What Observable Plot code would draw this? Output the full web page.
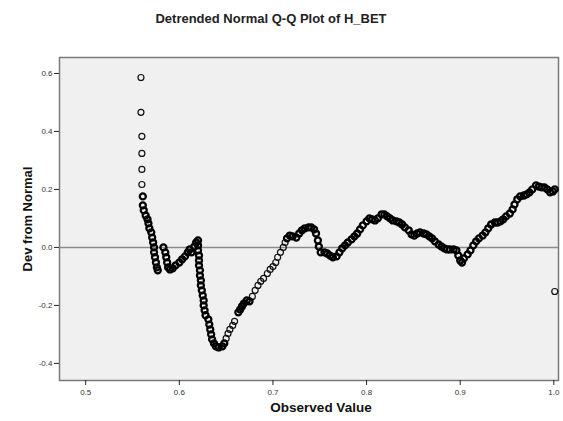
<!DOCTYPE html>
<html>
<head>
<meta charset="utf-8">
<script src="https://cdn.jsdelivr.net/npm/d3@7"></script>
<script src="https://cdn.jsdelivr.net/npm/@observablehq/plot@0.6"></script>
<style>
  html, body { margin: 0; padding: 0; background: #fff; }
  #wrap { position: relative; width: 563px; height: 421px; }
  #title { position: absolute; top: 11px; left: 271px; transform: translateX(-50%); white-space: nowrap;
           font-family: "Liberation Sans", Arial, sans-serif; font-size: 13px; font-weight: bold; color: #222; }
  svg [aria-label="x-axis label"] text { font-size: 13.5px; font-weight: bold; fill: #111; }
  svg [aria-label="y-axis label"] text { font-size: 13px; font-weight: bold; fill: #111; }
  svg [aria-label="y-axis tick label"] text, svg [aria-label="x-axis tick label"] text { fill: #333; }
</style>
</head>
<body>
<div id="wrap"><div id="title">Detrended Normal Q-Q Plot of H_BET</div></div>
<script>
const title = "Detrended Normal Q-Q Plot of H_BET";
const xLabel = "Observed Value";
const yLabel = "Dev from Normal";
const xTicks = [0.5, 0.6, 0.7, 0.8, 0.9, 1.0];
const yTicks = [-0.4, -0.2, 0.0, 0.2, 0.4, 0.6];

const obsValue = [
  0.559,0.559,0.560,0.560,0.560,0.560,0.561,0.561,0.562,0.564,0.566,0.567,0.568,0.570,0.571,0.572,0.573,0.573,0.574,0.575,0.576,0.577,
  0.583,0.585,0.586,0.587,0.588,0.590,0.593,0.596,0.600,0.603,0.606,0.609,0.611,0.613,0.616,0.618,0.620,
  0.620,0.620,0.621,0.621,0.621,0.622,0.622,0.623,0.623,0.624,0.625,0.626,0.626,0.627,0.628,0.631,0.632,0.633,0.634,0.635,0.637,0.639,0.642,0.646,0.648,
  0.650,0.652,0.654,0.657,0.659,
  0.663,0.665,0.667,0.669,0.672,0.675,0.678,0.681,0.684,0.687,0.690,0.694,0.697,0.700,0.703,0.705,0.708,0.711,0.713,0.715,0.718,0.721,0.725,0.728,0.731,0.734,0.738,0.741,0.744,0.746,0.748,0.749,
  0.751,0.755,0.758,0.761,0.764,0.768,0.771,0.774,0.777,0.780,0.784,0.787,0.790,0.793,0.796,0.800,0.803,0.806,0.809,0.812,0.816,0.819,0.822,0.825,0.828,0.832,0.835,0.838,0.841,0.845,0.848,
  0.851,0.854,0.857,0.861,0.864,0.867,0.870,0.873,0.877,0.880,0.883,0.886,0.889,0.893,0.896,0.898,0.900,0.902,0.904,0.908,0.911,0.914,0.917,0.920,0.924,0.927,0.930,0.933,0.937,0.940,0.943,0.946,0.949,
  0.953,0.956,0.958,0.961,0.964,0.968,0.971,0.974,0.977,0.981,0.984,0.987,0.990,0.993,0.996,0.999,1.001,1.001
];
const devNormal = [
  0.586,0.466,0.383,0.324,0.269,0.217,0.176,0.145,0.128,0.110,0.097,0.083,0.066,0.052,0.034,0.017,0.000,-0.017,-0.034,-0.052,-0.069,-0.079,
  0.000,-0.017,-0.034,-0.052,-0.069,-0.076,-0.072,-0.062,-0.052,-0.041,-0.031,-0.017,-0.007,-0.017,0.003,0.017,0.024,
  0.007,-0.010,-0.028,-0.045,-0.062,-0.079,-0.097,-0.114,-0.131,-0.148,-0.166,-0.183,-0.200,-0.217,-0.234,-0.248,-0.266,-0.283,-0.300,-0.317,-0.331,-0.341,-0.345,-0.341,-0.331,
  -0.314,-0.297,-0.283,-0.269,-0.255,
  -0.224,-0.214,-0.203,-0.193,-0.183,-0.186,-0.169,-0.148,-0.131,-0.117,-0.107,-0.090,-0.076,-0.066,-0.052,-0.034,-0.017,0.000,0.017,0.031,0.041,0.038,0.034,0.048,0.059,0.066,0.069,0.069,0.062,0.048,0.024,0.003,
  -0.017,-0.017,-0.021,-0.028,-0.034,-0.031,-0.017,-0.003,0.007,0.017,0.028,0.038,0.048,0.062,0.076,0.090,0.100,0.097,0.093,0.100,0.114,0.114,0.107,0.100,0.093,0.090,0.086,0.079,0.069,0.059,0.045,
  0.041,0.048,0.052,0.048,0.045,0.038,0.031,0.021,0.010,0.003,-0.003,-0.007,-0.007,-0.007,-0.010,-0.028,-0.045,-0.052,-0.038,-0.024,-0.010,0.007,0.021,0.031,0.041,0.052,0.066,0.079,0.086,0.086,0.090,0.097,0.107,
  0.117,0.131,0.148,0.166,0.176,0.179,0.183,0.190,0.200,0.214,0.210,0.207,0.207,0.200,0.190,0.193,0.200,-0.152
];

// stretches of the trail where the observations are sparse (drawn as open rings)
const sparseRuns = [[0.55, 0.5605], [0.649, 0.660], [0.677, 0.714], [1.0005, 1.002]];

const points = obsValue.map((v, i) => ({obs: v, dev: devNormal[i]}));
const isSparse = (p) => sparseRuns.some(([a, b]) => p.obs >= a && p.obs <= b) && !(p.obs > 1 && p.dev > 0);

const chart = Plot.plot({
  width: 563,
  height: 421,
  marginLeft: 59,
  marginRight: 5,
  marginTop: 57,
  marginBottom: 41,
  style: {background: "transparent", fontFamily: "'Liberation Sans', Arial, sans-serif", fontSize: "8px", color: "#222"},
  x: {domain: [0.472, 1.005]},
  y: {domain: [-0.459, 0.655]},
  marks: [
    Plot.frame({fill: "#f0f0f0", stroke: "#7a7a7a", strokeWidth: 1.5}),
    Plot.ruleY([0], {stroke: "#8a8a8a", strokeWidth: 1.5}),
    Plot.dot(points.filter(isSparse), {x: "obs", y: "dev", r: 3, stroke: "#111", strokeWidth: 1.2, fill: "none"}),
    Plot.dot(points.filter(p => !isSparse(p)), {x: "obs", y: "dev", r: 3, stroke: "#000", strokeWidth: 2.3, fill: "none"}),
    Plot.axisX(xTicks, {tickSize: 5, tickPadding: 4, tickFormat: d3.format(".1f"), label: xLabel, labelAnchor: "center", labelOffset: 31, labelArrow: "none"}),
    Plot.axisY(yTicks, {tickSize: 5, tickPadding: 2, tickFormat: d => d3.format(".1f")(d).replace("\u2212", "-"), label: yLabel, labelAnchor: "center", labelOffset: 37, labelArrow: "none"})
  ]
});
chart.style.position = "absolute";
chart.style.left = "0";
chart.style.top = "0";
const xl = chart.querySelector('[aria-label="x-axis label"] text');
if (xl) xl.setAttribute("dx", "12");
document.getElementById("wrap").prepend(chart);
</script>
</body>
</html>
